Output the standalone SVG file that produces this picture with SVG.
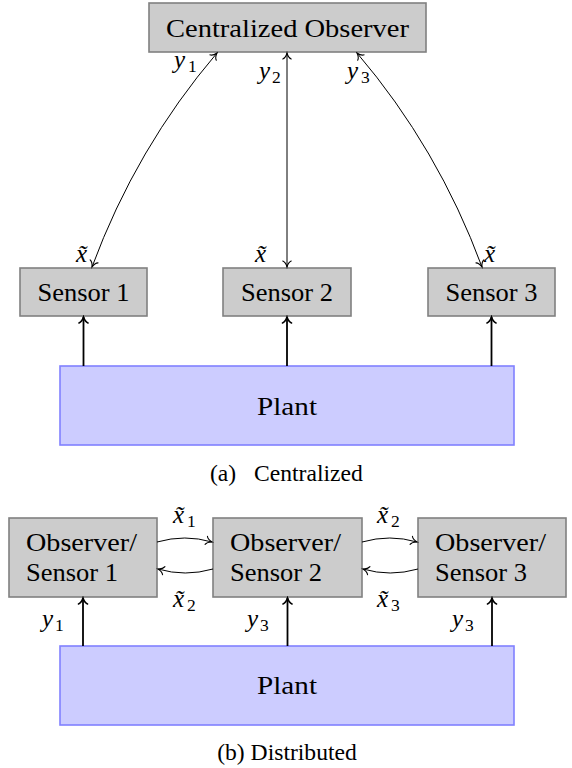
<svg xmlns="http://www.w3.org/2000/svg" width="572" height="768" viewBox="0 0 572 768">
<defs>
<style>
.box{fill:#cccccc;stroke:#808080;stroke-width:1.6}
.plant{fill:#ccccff;stroke:#8080ff;stroke-width:1.6}
.t{font-family:"Liberation Serif",serif;font-size:25.5px;fill:#000}
.cap{font-family:"Liberation Serif",serif;font-size:23.6px;fill:#000}
.m{font-family:"Liberation Serif",serif;font-style:italic;font-size:25px;fill:#000}
.s{font-family:"Liberation Serif",serif;font-size:17.5px;fill:#000}
.thin{fill:none;stroke:#000;stroke-width:1}
.thick{fill:none;stroke:#000;stroke-width:1.8}
</style>
<marker id="to" viewBox="-8 -6 10 12" refX="0" refY="0" markerWidth="10" markerHeight="12" markerUnits="userSpaceOnUse" orient="auto-start-reverse">
<path d="M-6,-4.2 C-5,-1.8 -1.5,-0.4 0,0 C-1.5,0.4 -5,1.8 -6,4.2" fill="none" stroke="#000" stroke-width="1.1" stroke-linecap="round"/>
</marker>
<marker id="tok" viewBox="-8 -6 10 12" refX="0" refY="0" markerWidth="10" markerHeight="12" markerUnits="userSpaceOnUse" orient="auto-start-reverse">
<path d="M-6,-4.5 C-5,-2 -1.5,-0.5 0,0 C-1.5,0.5 -5,2 -6,4.5" fill="none" stroke="#000" stroke-width="1.6" stroke-linecap="round"/>
</marker>
</defs>

<g id="centralized-observer">
<rect class="box" x="149" y="3" width="277" height="49"/>
<text class="t" x="287.5" y="36.5" text-anchor="middle" textLength="243" lengthAdjust="spacingAndGlyphs">Centralized Observer</text>
</g>
<g id="sensor-1">
<rect class="box" x="20" y="268" width="127" height="48"/>
<text class="t" x="83.5" y="301" text-anchor="middle" textLength="92" lengthAdjust="spacingAndGlyphs">Sensor 1</text>
</g>
<g id="sensor-2">
<rect class="box" x="223" y="268" width="128" height="48"/>
<text class="t" x="287" y="301" text-anchor="middle" textLength="92" lengthAdjust="spacingAndGlyphs">Sensor 2</text>
</g>
<g id="sensor-3">
<rect class="box" x="428" y="268" width="127" height="48"/>
<text class="t" x="491.5" y="301" text-anchor="middle" textLength="92" lengthAdjust="spacingAndGlyphs">Sensor 3</text>
</g>
<g id="plant-a">
<rect class="plant" x="60" y="366" width="454" height="79"/>
<text class="t" x="287" y="415" text-anchor="middle" textLength="60" lengthAdjust="spacingAndGlyphs">Plant</text>
</g>
<g id="caption-a">
<text class="cap" x="210" y="481">(a)</text>
<text class="cap" x="254" y="481">Centralized</text>
</g>

<g id="obs-sensor-1">
<rect class="box" x="9" y="518" width="148" height="79"/>
<text class="t" x="26" y="551" textLength="111" lengthAdjust="spacingAndGlyphs">Observer/</text>
<text class="t" x="26" y="581" textLength="92" lengthAdjust="spacingAndGlyphs">Sensor 1</text>
</g>
<g id="obs-sensor-2">
<rect class="box" x="213" y="518" width="149" height="79"/>
<text class="t" x="230" y="551" textLength="111" lengthAdjust="spacingAndGlyphs">Observer/</text>
<text class="t" x="230" y="581" textLength="92" lengthAdjust="spacingAndGlyphs">Sensor 2</text>
</g>
<g id="obs-sensor-3">
<rect class="box" x="418" y="518" width="148" height="79"/>
<text class="t" x="435" y="551" textLength="111" lengthAdjust="spacingAndGlyphs">Observer/</text>
<text class="t" x="435" y="581" textLength="92" lengthAdjust="spacingAndGlyphs">Sensor 3</text>
</g>
<g id="plant-b">
<rect class="plant" x="60" y="646" width="454" height="79"/>
<text class="t" x="287" y="694" text-anchor="middle" textLength="60" lengthAdjust="spacingAndGlyphs">Plant</text>
</g>
<g id="caption-b">
<text class="cap" x="287" y="760" text-anchor="middle">(b) Distributed</text>
</g>

<g id="connectors">
<path class="thin" d="M217,53 Q136,148 92,267" marker-start="url(#to)" marker-end="url(#to)"/>
<path class="thin" d="M287,53 L287,267" marker-start="url(#to)" marker-end="url(#to)"/>
<path class="thin" d="M357,53 Q438,148 482,267" marker-start="url(#to)" marker-end="url(#to)"/>
<path class="thick" d="M83.5,366 L83.5,317" marker-end="url(#tok)"/>
<path class="thick" d="M287,366 L287,317" marker-end="url(#tok)"/>
<path class="thick" d="M491.5,366 L491.5,317" marker-end="url(#tok)"/>
<path class="thin" d="M157,542 Q185,534 212,542" marker-end="url(#to)"/>
<path class="thin" d="M213,569 Q185,577 158,569" marker-end="url(#to)"/>
<path class="thin" d="M362,542 Q390,534 417,542" marker-end="url(#to)"/>
<path class="thin" d="M418,569 Q390,577 363,569" marker-end="url(#to)"/>
<path class="thick" d="M83,646 L83,598" marker-end="url(#tok)"/>
<path class="thick" d="M287.5,646 L287.5,598" marker-end="url(#tok)"/>
<path class="thick" d="M492,646 L492,598" marker-end="url(#tok)"/>
</g>

<g id="labels">
<text class="m" x="174" y="68">y</text><text class="s" x="188" y="72">1</text>
<text class="m" x="259" y="79">y</text><text class="s" x="272" y="83">2</text>
<text class="m" x="347" y="79">y</text><text class="s" x="361" y="83">3</text>
<text class="m" x="76" y="262">x̃</text>
<text class="m" x="255" y="262">x̃</text>
<text class="m" x="484" y="262">x̃</text>
<text class="m" x="173" y="523">x̃</text><text class="s" x="187" y="527">1</text>
<text class="m" x="377" y="523">x̃</text><text class="s" x="391" y="527">2</text>
<text class="m" x="173" y="607">x̃</text><text class="s" x="187" y="611">2</text>
<text class="m" x="377" y="607">x̃</text><text class="s" x="391" y="611">3</text>
<text class="m" x="42" y="627">y</text><text class="s" x="55" y="631">1</text>
<text class="m" x="247" y="627">y</text><text class="s" x="260" y="631">3</text>
<text class="m" x="452" y="627">y</text><text class="s" x="465" y="631">3</text>
</g>
</svg>
